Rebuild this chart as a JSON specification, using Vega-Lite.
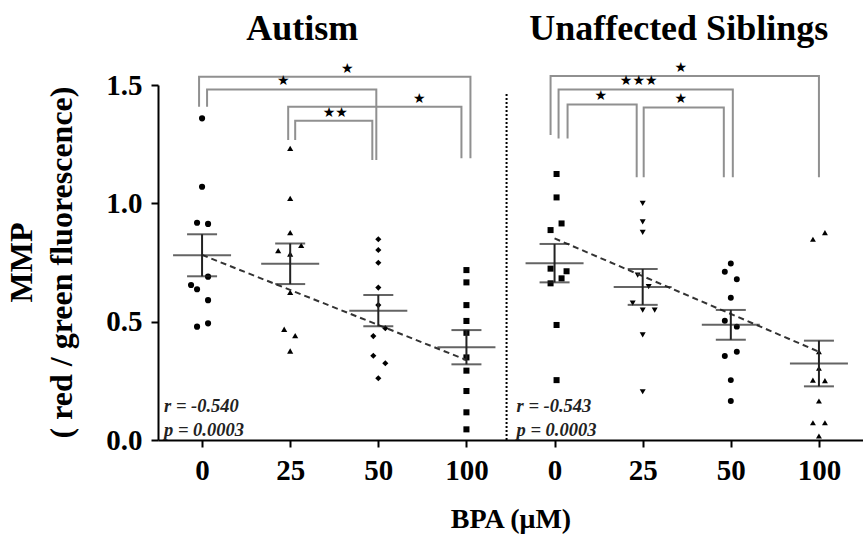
{
  "$schema": "https://vega.github.io/schema/vega-lite/v6.json",
  "width": 705,
  "height": 355,
  "autosize": {"type": "none"},
  "padding": {"left": 158, "top": 85, "right": 0, "bottom": 96},
  "background": "white",
  "config": {
    "view": {"stroke": null},
    "axis": {
      "domainColor": "black", "domainWidth": 2, "tickColor": "black", "tickWidth": 2, "tickSize": 7,
      "labelFont": "Liberation Serif", "labelFontWeight": "bold", "labelFontSize": 29, "labelColor": "black",
      "titleFont": "Liberation Serif", "titleFontWeight": "bold", "titleColor": "black", "grid": false
    }
  },
  "datasets": {
    "pts": [
      {"key": "A 0", "v": 1.359, "j": 0}, {"key": "A 0", "v": 1.070, "j": 0}, {"key": "A 0", "v": 0.918, "j": -5}, {"key": "A 0", "v": 0.913, "j": 6}, {"key": "A 0", "v": 0.690, "j": 6},
      {"key": "A 0", "v": 0.655, "j": -11}, {"key": "A 0", "v": 0.637, "j": -5}, {"key": "A 0", "v": 0.591, "j": 6}, {"key": "A 0", "v": 0.479, "j": -5}, {"key": "A 0", "v": 0.493, "j": 6},
      {"key": "A 25", "v": 1.232, "j": 0}, {"key": "A 25", "v": 1.021, "j": 0}, {"key": "A 25", "v": 0.876, "j": 0}, {"key": "A 25", "v": 0.800, "j": -12}, {"key": "A 25", "v": 0.786, "j": 0},
      {"key": "A 25", "v": 0.822, "j": 11}, {"key": "A 25", "v": 0.624, "j": 0}, {"key": "A 25", "v": 0.468, "j": -6}, {"key": "A 25", "v": 0.441, "j": 5}, {"key": "A 25", "v": 0.376, "j": 0},
      {"key": "A 50", "v": 0.848, "j": 0}, {"key": "A 50", "v": 0.803, "j": 0}, {"key": "A 50", "v": 0.749, "j": 0}, {"key": "A 50", "v": 0.644, "j": 0}, {"key": "A 50", "v": 0.570, "j": 0},
      {"key": "A 50", "v": 0.472, "j": 7}, {"key": "A 50", "v": 0.439, "j": -5}, {"key": "A 50", "v": 0.356, "j": -5}, {"key": "A 50", "v": 0.324, "j": 7}, {"key": "A 50", "v": 0.261, "j": 0},
      {"key": "A 100", "v": 0.718, "j": 0}, {"key": "A 100", "v": 0.666, "j": 0}, {"key": "A 100", "v": 0.570, "j": 0}, {"key": "A 100", "v": 0.503, "j": 0}, {"key": "A 100", "v": 0.453, "j": 0},
      {"key": "A 100", "v": 0.349, "j": 0}, {"key": "A 100", "v": 0.293, "j": 0}, {"key": "A 100", "v": 0.207, "j": 0}, {"key": "A 100", "v": 0.117, "j": 0}, {"key": "A 100", "v": 0.045, "j": 0},
      {"key": "S 0", "v": 1.124, "j": 2}, {"key": "S 0", "v": 1.025, "j": 2}, {"key": "S 0", "v": 0.915, "j": 7}, {"key": "S 0", "v": 0.887, "j": -4}, {"key": "S 0", "v": 0.724, "j": -4},
      {"key": "S 0", "v": 0.713, "j": 12}, {"key": "S 0", "v": 0.683, "j": 7}, {"key": "S 0", "v": 0.662, "j": -4}, {"key": "S 0", "v": 0.486, "j": 2}, {"key": "S 0", "v": 0.253, "j": 2},
      {"key": "S 25", "v": 1.000, "j": 0}, {"key": "S 25", "v": 0.922, "j": 0}, {"key": "S 25", "v": 0.877, "j": 0}, {"key": "S 25", "v": 0.697, "j": -5}, {"key": "S 25", "v": 0.648, "j": 6},
      {"key": "S 25", "v": 0.578, "j": -10}, {"key": "S 25", "v": 0.549, "j": 0}, {"key": "S 25", "v": 0.549, "j": 12}, {"key": "S 25", "v": 0.444, "j": 0}, {"key": "S 25", "v": 0.204, "j": 0},
      {"key": "S 50", "v": 0.746, "j": 0}, {"key": "S 50", "v": 0.711, "j": -6}, {"key": "S 50", "v": 0.679, "j": 6}, {"key": "S 50", "v": 0.601, "j": 0}, {"key": "S 50", "v": 0.504, "j": -6},
      {"key": "S 50", "v": 0.479, "j": 6}, {"key": "S 50", "v": 0.355, "j": -6}, {"key": "S 50", "v": 0.373, "j": 6}, {"key": "S 50", "v": 0.253, "j": 0}, {"key": "S 50", "v": 0.165, "j": 0},
      {"key": "S 100", "v": 0.848, "j": -6}, {"key": "S 100", "v": 0.876, "j": 6}, {"key": "S 100", "v": 0.373, "j": 0}, {"key": "S 100", "v": 0.303, "j": 0}, {"key": "S 100", "v": 0.253, "j": -6},
      {"key": "S 100", "v": 0.251, "j": 6}, {"key": "S 100", "v": 0.165, "j": 0}, {"key": "S 100", "v": 0.073, "j": -6}, {"key": "S 100", "v": 0.073, "j": 6}, {"key": "S 100", "v": 0.017, "j": 0}
    ],
    "brk": [
      {"b": "B1", "o": 0, "key": "A 0", "v": 1.408, "j": -3}, {"b": "B1", "o": 1, "key": "A 0", "v": 1.535, "j": -3}, {"b": "B1", "o": 2, "key": "A 100", "v": 1.535, "j": 4}, {"b": "B1", "o": 3, "key": "A 100", "v": 1.19, "j": 4},
      {"b": "B2", "o": 0, "key": "A 0", "v": 1.408, "j": 5}, {"b": "B2", "o": 1, "key": "A 0", "v": 1.481, "j": 5}, {"b": "B2", "o": 2, "key": "A 50", "v": 1.481, "j": -2}, {"b": "B2", "o": 3, "key": "A 50", "v": 1.183, "j": -2},
      {"b": "B3", "o": 0, "key": "A 25", "v": 1.268, "j": -2}, {"b": "B3", "o": 1, "key": "A 25", "v": 1.408, "j": -2}, {"b": "B3", "o": 2, "key": "A 100", "v": 1.408, "j": -5}, {"b": "B3", "o": 3, "key": "A 100", "v": 1.19, "j": -5},
      {"b": "B4", "o": 0, "key": "A 25", "v": 1.268, "j": 5}, {"b": "B4", "o": 1, "key": "A 25", "v": 1.349, "j": 5}, {"b": "B4", "o": 2, "key": "A 50", "v": 1.349, "j": -6}, {"b": "B4", "o": 3, "key": "A 50", "v": 1.183, "j": -6},
      {"b": "C1", "o": 0, "key": "S 0", "v": 1.289, "j": -4}, {"b": "C1", "o": 1, "key": "S 0", "v": 1.538, "j": -4}, {"b": "C1", "o": 2, "key": "S 100", "v": 1.538, "j": 0}, {"b": "C1", "o": 3, "key": "S 100", "v": 1.11, "j": 0},
      {"b": "C2", "o": 0, "key": "S 0", "v": 1.274, "j": 4}, {"b": "C2", "o": 1, "key": "S 0", "v": 1.481, "j": 4}, {"b": "C2", "o": 2, "key": "S 50", "v": 1.481, "j": 2}, {"b": "C2", "o": 3, "key": "S 50", "v": 1.11, "j": 2},
      {"b": "C3", "o": 0, "key": "S 0", "v": 1.274, "j": 13}, {"b": "C3", "o": 1, "key": "S 0", "v": 1.418, "j": 13}, {"b": "C3", "o": 2, "key": "S 25", "v": 1.418, "j": -6}, {"b": "C3", "o": 3, "key": "S 25", "v": 1.11, "j": -6},
      {"b": "C4", "o": 0, "key": "S 25", "v": 1.11, "j": 1}, {"b": "C4", "o": 1, "key": "S 25", "v": 1.405, "j": 1}, {"b": "C4", "o": 2, "key": "S 50", "v": 1.405, "j": -7}, {"b": "C4", "o": 3, "key": "S 50", "v": 1.11, "j": -7}
    ],
    "stars": [
      {"key": "A 50", "v": 1.535, "j": -31, "s": "★"},
      {"key": "A 25", "v": 1.481, "j": -7, "s": "★"},
      {"key": "A 50", "v": 1.408, "j": 41, "s": "★"},
      {"key": "A 50", "v": 1.349, "j": -43, "s": "★★"},
      {"key": "S 25", "v": 1.538, "j": 38, "s": "★"},
      {"key": "S 25", "v": 1.481, "j": -4, "s": "★★★"},
      {"key": "S 25", "v": 1.418, "j": -42, "s": "★"},
      {"key": "S 25", "v": 1.405, "j": 38, "s": "★"}
    ],
    "reg": [
      {"g": "A", "key": "A 0", "v": 0.782}, {"g": "A", "key": "A 100", "v": 0.338},
      {"g": "S", "key": "S 0", "v": 0.852}, {"g": "S", "key": "S 100", "v": 0.373}
    ],
    "corr": [
      {"key": "A 0", "r": "r = -0.540", "p": "p = 0.0003"},
      {"key": "S 0", "r": "r = -0.543", "p": "p = 0.0003"}
    ]
  },
  "layer": [
    {
      "data": {"name": "pts"},
      "mark": {"type": "point", "filled": true, "opacity": 1, "color": "black"},
      "encoding": {
        "x": {
          "field": "key", "type": "nominal", "title": "BPA (μM)",
          "scale": {"type": "point", "padding": 0.5, "domain": ["A 0", "A 25", "A 50", "A 100", "S 0", "S 25", "S 50", "S 100"]},
          "axis": {"labelAngle": 0, "labelExpr": "substring(datum.label, 2)", "labelPadding": 9, "titleFontSize": 28, "titleY": 87, "titleBaseline": "alphabetic"}
        },
        "y": {
          "field": "v", "type": "quantitative", "title": ["MMP", "( red / green fluorescence)"],
          "scale": {"domain": [0, 1.5], "nice": false},
          "axis": {"values": [0, 0.5, 1, 1.5], "format": ".1f", "labelPadding": 9, "titleFontSize": 32, "titleAngle": -90, "titleX": -127, "titleY": 177, "titleAlign": "center", "titleBaseline": "alphabetic", "titleLineHeight": 40}
        },
        "xOffset": {"field": "j", "type": "quantitative", "scale": {"domain": [-50, 50], "range": [-50, 50]}},
        "shape": {"field": "key", "type": "nominal", "legend": null, "scale": {"domain": ["A 0", "A 25", "A 50", "A 100", "S 0", "S 25", "S 50", "S 100"], "range": ["circle", "triangle-up", "diamond", "square", "square", "triangle-down", "circle", "triangle-up"]}},
        "size": {"field": "key", "type": "nominal", "legend": null, "scale": {"domain": ["A 0", "A 25", "A 50", "A 100", "S 0", "S 25", "S 50", "S 100"], "range": [38, 35, 20, 26, 42, 35, 45, 9]}}
      }
    },
    {
      "data": {"values": [{}]},
      "mark": {"type": "rule", "strokeDash": [2, 2], "strokeWidth": 2, "color": "black", "xOffset": -48},
      "encoding": {"x": {"datum": "S 0"}, "y": {"datum": 0}, "y2": {"datum": 1.466}}
    },
    {
      "data": {"name": "brk"},
      "mark": {"type": "line", "color": "#909090", "strokeWidth": 2},
      "encoding": {
        "x": {"field": "key", "type": "nominal", "title": "BPA (μM)"},
        "y": {"field": "v", "type": "quantitative", "title": ["MMP", "( red / green fluorescence)"]},
        "detail": {"field": "b"},
        "order": {"field": "o", "type": "quantitative"},
        "xOffset": {"field": "j", "type": "quantitative", "scale": {"domain": [-50, 50], "range": [-50, 50]}}
      }
    },
    {
      "data": {"name": "stars"},
      "mark": {"type": "text", "font": "DejaVu Sans", "fontSize": 14, "baseline": "middle", "dy": -8, "color": "black"},
      "encoding": {
        "x": {"field": "key", "type": "nominal", "title": "BPA (μM)"},
        "y": {"field": "v", "type": "quantitative", "title": ["MMP", "( red / green fluorescence)"]},
        "text": {"field": "s"},
        "xOffset": {"field": "j", "type": "quantitative", "scale": {"domain": [-50, 50], "range": [-50, 50]}}
      }
    },
    {
      "data": {"name": "reg"},
      "mark": {"type": "line", "color": "#333333", "strokeWidth": 2, "strokeDash": [6, 4]},
      "encoding": {
        "x": {"field": "key", "type": "nominal", "title": "BPA (μM)"},
        "y": {"field": "v", "type": "quantitative", "title": ["MMP", "( red / green fluorescence)"]},
        "detail": {"field": "g"}
      }
    },
    {
      "data": {"name": "pts"},
      "mark": {"type": "errorbar", "extent": "stderr", "ticks": {"size": 30, "thickness": 2, "color": "#222222"}, "rule": {"strokeWidth": 2, "color": "#222222"}},
      "encoding": {
        "x": {"field": "key", "type": "nominal", "title": "BPA (μM)"},
        "y": {"field": "v", "type": "quantitative", "title": ["MMP", "( red / green fluorescence)"]}
      }
    },
    {
      "data": {"name": "pts"},
      "transform": [{"aggregate": [{"op": "mean", "field": "v", "as": "v"}], "groupby": ["key"]}],
      "mark": {"type": "tick", "size": 58, "thickness": 2, "color": "#222222"},
      "encoding": {
        "x": {"field": "key", "type": "nominal", "title": "BPA (μM)"},
        "y": {"field": "v", "type": "quantitative", "title": ["MMP", "( red / green fluorescence)"]}
      }
    },
    {
      "data": {"name": "corr"},
      "mark": {"type": "text", "font": "Liberation Serif", "fontWeight": "bold", "fontStyle": "italic", "fontSize": 18.5, "align": "left", "baseline": "alphabetic", "dx": -38, "color": "#222222"},
      "encoding": {
        "x": {"field": "key", "type": "nominal", "title": "BPA (μM)"},
        "y": {"datum": 0.118},
        "text": {"field": "r"}
      }
    },
    {
      "data": {"name": "corr"},
      "mark": {"type": "text", "font": "Liberation Serif", "fontWeight": "bold", "fontStyle": "italic", "fontSize": 18.5, "align": "left", "baseline": "alphabetic", "dx": -38, "color": "#222222"},
      "encoding": {
        "x": {"field": "key", "type": "nominal", "title": "BPA (μM)"},
        "y": {"datum": 0.017},
        "text": {"field": "p"}
      }
    },
    {
      "data": {"values": [{}]},
      "mark": {"type": "text", "text": "Autism", "font": "Liberation Serif", "fontWeight": "bold", "fontSize": 36, "baseline": "alphabetic", "dx": 12, "color": "black"},
      "encoding": {"x": {"datum": "A 25"}, "y": {"datum": 1.69}}
    },
    {
      "data": {"values": [{}]},
      "mark": {"type": "text", "text": "Unaffected Siblings", "font": "Liberation Serif", "fontWeight": "bold", "fontSize": 36, "baseline": "alphabetic", "dx": 36, "color": "black"},
      "encoding": {"x": {"datum": "S 25"}, "y": {"datum": 1.69}}
    }
  ]
}
